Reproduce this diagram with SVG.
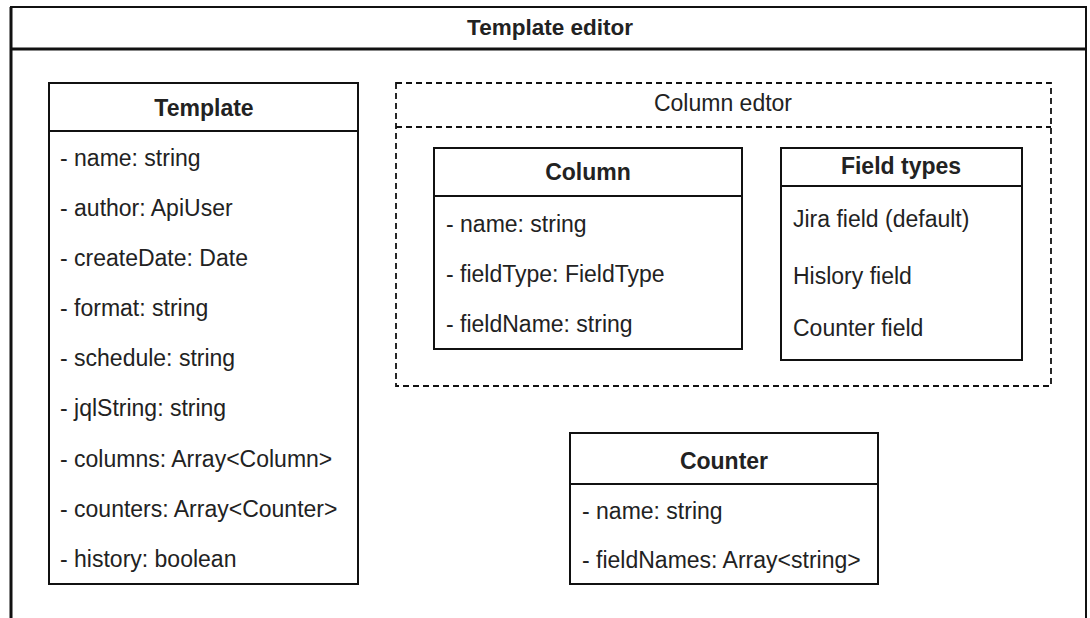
<svg xmlns="http://www.w3.org/2000/svg" width="1090" height="618" viewBox="0 0 1090 618">
<style>
text{font-family:"Liberation Sans",Arial,sans-serif;fill:#222}
.t{font-size:22.5px;font-weight:bold;text-anchor:middle}
.h{font-size:23px;font-weight:bold;text-anchor:middle}
.a{font-size:23px}
.c{font-size:23px;text-anchor:middle}
.box{fill:#fff;stroke:#111;stroke-width:2}
.ln{stroke:#111;stroke-width:2}
.dash{fill:none;stroke:#111;stroke-width:1.8;stroke-dasharray:6 4}
</style>
<rect width="1090" height="618" fill="#fff"/>
<g id="template-editor">
<path d="M11 618 V7 H1086 V618" fill="none" stroke="#111" stroke-width="2"/>
<line x1="11" y1="7" x2="11" y2="618" stroke="#111" stroke-width="3"/>
<line x1="10" y1="49" x2="1087" y2="49" stroke="#111" stroke-width="3"/>
<text class="t" x="550" y="35">Template editor</text>
</g>
<g id="template">
<rect class="box" x="49" y="83" width="309" height="501"/>
<line class="ln" x1="49" y1="131" x2="358" y2="131"/>
<text class="h" x="204" y="116">Template</text>
<text class="a" x="60" y="166">- name: string</text>
<text class="a" x="60" y="216">- author: ApiUser</text>
<text class="a" x="60" y="266">- createDate: Date</text>
<text class="a" x="60" y="316">- format: string</text>
<text class="a" x="60" y="366">- schedule: string</text>
<text class="a" x="60" y="416">- jqlString: string</text>
<text class="a" x="60" y="467">- columns: Array&lt;Column&gt;</text>
<text class="a" x="60" y="517">- counters: Array&lt;Counter&gt;</text>
<text class="a" x="60" y="567">- history: boolean</text>
</g>
<g id="column-editor">
<rect class="dash" x="396" y="83" width="655" height="303"/>
<line class="dash" x1="396" y1="127" x2="1051" y2="127"/>
<text class="c" x="723" y="111">Column edtor</text>
</g>
<g id="column">
<rect class="box" x="434" y="148" width="308" height="201"/>
<line class="ln" x1="434" y1="196" x2="742" y2="196"/>
<text class="h" x="588" y="180">Column</text>
<text class="a" x="446" y="232">- name: string</text>
<text class="a" x="446" y="282">- fieldType: FieldType</text>
<text class="a" x="446" y="332">- fieldName: string</text>
</g>
<g id="field-types">
<rect class="box" x="781" y="148" width="241" height="212"/>
<line class="ln" x1="781" y1="186" x2="1022" y2="186"/>
<text class="h" x="901" y="174">Field types</text>
<text class="a" x="793" y="227">Jira field (default)</text>
<text class="a" x="793" y="284">Hislory field</text>
<text class="a" x="793" y="336">Counter field</text>
</g>
<g id="counter">
<rect class="box" x="570" y="433" width="308" height="151"/>
<line class="ln" x1="570" y1="484" x2="878" y2="484"/>
<text class="h" x="724" y="469">Counter</text>
<text class="a" x="582" y="519">- name: string</text>
<text class="a" x="582" y="568">- fieldNames: Array&lt;string&gt;</text>
</g>
<g id="connectors"></g>
</svg>
